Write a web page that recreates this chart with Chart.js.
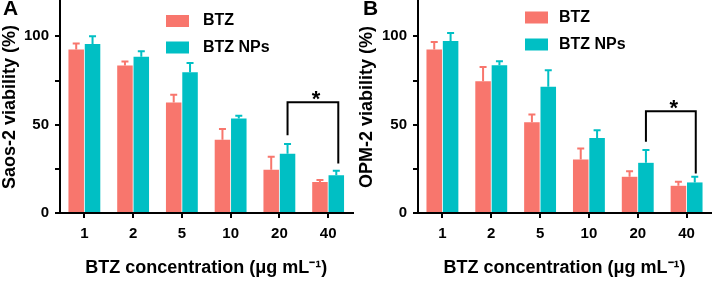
<!DOCTYPE html>
<html><head><meta charset="utf-8">
<script src="https://cdn.jsdelivr.net/npm/chart.js@4.4.1/dist/chart.umd.min.js"></script>
<style>
html,body{margin:0;padding:0;background:#fff;overflow:hidden}
#wrap{position:relative;width:714px;height:281px;background:#fff}
.panel{position:absolute;top:0;width:357px;height:281px}
canvas{display:block}
</style></head><body>
<div id="wrap">
<div class="panel" style="left:0"><canvas id="cA" width="357" height="281"></canvas></div>
<div class="panel" style="left:357px"><canvas id="cB" width="357" height="281"></canvas></div>
</div>
<script>
// ---- data ----
const categories = ['1', '2', '5', '10', '20', '40'];
const seriesNames = ['BTZ', 'BTZ NPs'];
const yTickLabels = [0, 50, 100];
const xTitle = 'BTZ concentration (\u03bcg mL\u207b\u00b9)';

// Panel A: Saos-2
const saosTitle = 'Saos-2 viability (%)';
const saosBTZ = [92.5, 83.5, 62.5, 41.5, 24.5, 17.5];
const saosBTZErr = [3.5, 2.3, 4.5, 6.0, 7.3, 1.2];
const saosNPs = [95.7, 88.5, 79.7, 53.5, 33.5, 21.3];
const saosNPsErr = [4.3, 3.0, 5.2, 1.5, 5.5, 2.6];
const saosBracket = [62.7, 44, 28];   // top, left leg bottom, right leg bottom

// Panel B: OPM-2
const opmTitle = 'OPM-2 viability (%)';
const opmBTZ = [92.5, 74.6, 51.4, 30.3, 20.5, 15.4];
const opmBTZErr = [4.3, 8.1, 4.4, 6.2, 3.2, 2.3];
const opmNPs = [97.4, 83.6, 71.4, 42.4, 28.4, 17.3];
const opmNPsErr = [4.5, 2.3, 9.4, 4.5, 7.2, 3.2];
const opmBracket = [57.6, 40.3, 22.4];

const significance = '*';

// ---- styles ----
const COLORS = ['#F8766D', '#00BFC4'];
const FONT = "'Liberation Sans', Arial, Helvetica, sans-serif";
Chart.defaults.font.family = FONT;
Chart.defaults.font.weight = 'bold';
Chart.defaults.color = '#000';

const decor = {
  id: 'decor',
  afterDatasetsDraw(chart, args, o) {
    const ctx = chart.ctx, ys = chart.scales.y;
    // error bars
    chart.data.datasets.forEach((ds, i) => {
      const meta = chart.getDatasetMeta(i);
      meta.data.forEach((bar, j) => {
        const top = ys.getPixelForValue(ds.data[j] + ds.errors[j]);
        ctx.save();
        ctx.strokeStyle = ds.backgroundColor;
        ctx.lineWidth = 2;
        ctx.beginPath();
        ctx.moveTo(bar.x, bar.y);
        ctx.lineTo(bar.x, top);
        ctx.moveTo(bar.x - 3.5, top);
        ctx.lineTo(bar.x + 3.5, top);
        ctx.stroke();
        ctx.restore();
      });
    });
    // significance bracket
    const b = o.bracket;
    const meta = chart.getDatasetMeta(1);
    const x1 = meta.data[4].x, x2 = meta.data[5].x + o.rightDx;
    const yTop = ys.getPixelForValue(b[0]);
    ctx.save();
    ctx.strokeStyle = '#000';
    ctx.lineWidth = 2;
    ctx.lineJoin = 'miter';
    ctx.beginPath();
    ctx.moveTo(x1, ys.getPixelForValue(b[1]));
    ctx.lineTo(x1, yTop);
    ctx.lineTo(x2, yTop);
    ctx.lineTo(x2, ys.getPixelForValue(b[2]));
    ctx.stroke();
    ctx.fillStyle = '#000';
    ctx.font = 'bold 22px ' + FONT;
    ctx.textAlign = 'center';
    ctx.textBaseline = 'alphabetic';
    ctx.fillText(significance, (x1 + x2) / 2 + o.starDx, yTop + 3.7);
    ctx.restore();
  },
  afterDraw(chart, args, o) {
    const ctx = chart.ctx;
    ctx.save();
    // legend
    chart.data.datasets.forEach((ds, i) => {
      const cy = o.legendY + i * o.legendGap;
      ctx.fillStyle = ds.backgroundColor;
      ctx.fillRect(o.legendX, cy - 6, 23, 12);
      ctx.fillStyle = '#000';
      ctx.font = 'bold 16px ' + FONT;
      ctx.textAlign = 'left';
      ctx.textBaseline = 'middle';
      ctx.fillText(ds.label, o.legendX + o.textDx, cy);
    });
    // panel letter
    ctx.font = 'bold 21px ' + FONT;
    ctx.textAlign = 'left';
    ctx.textBaseline = 'alphabetic';
    ctx.fillStyle = '#000';
    ctx.fillText(o.letter, o.letterX, 15);
    ctx.restore();
  }
};

function makeChart(id, yTitle, btz, btzErr, nps, npsErr, bracket, cfg) {
  return new Chart(document.getElementById(id), {
    type: 'bar',
    data: {
      labels: categories,
      datasets: [
        { label: seriesNames[0], data: btz, errors: btzErr, backgroundColor: COLORS[0],
          categoryPercentage: 0.67, barPercentage: 0.95 },
        { label: seriesNames[1], data: nps, errors: npsErr, backgroundColor: COLORS[1],
          categoryPercentage: 0.67, barPercentage: 0.95 }
      ]
    },
    options: {
      responsive: false,
      animation: false,
      devicePixelRatio: 1,
      layout: { padding: { top: 1, right: cfg.padRight, left: 0, bottom: 0 } },
      plugins: {
        legend: { display: false },
        tooltip: { enabled: false },
        decor: cfg.decor
      },
      scales: {
        x: {
          grid: { display: true, drawOnChartArea: false, drawTicks: true, tickLength: 5,
                  color: '#000', lineWidth: 2, offset: false },
          border: { display: true, color: '#000', width: 2 },
          ticks: { font: { size: 15, weight: 'bold' }, color: '#000', padding: 7, maxRotation: 0 },
          title: { display: true, text: xTitle, font: { size: 18, weight: 'bold' }, color: '#000',
                   padding: { top: 0, bottom: 2 } },
          afterFit(s) { s.height = 68; s.paddingLeft = 0; s.paddingRight = 0; }
        },
        y: {
          min: 0, max: 120,
          grid: { display: true, drawOnChartArea: false, drawTicks: true, tickLength: 5,
                  color: '#000', lineWidth: 2 },
          border: { display: true, color: '#000', width: 2 },
          ticks: { stepSize: 25, includeBounds: false, font: { size: 15, weight: 'bold' }, color: '#000',
                   padding: 6,
                   callback: (v) => yTickLabels.includes(v) ? String(v) : '' },
          title: { display: true, text: yTitle, font: { size: 18, weight: 'bold', lineHeight: 1 },
                   color: '#000', padding: { top: 1, bottom: 0 } },
          afterFit(s) { s.width = cfg.yWidth; s.paddingTop = 0; s.paddingBottom = 0; }
        }
      }
    },
    plugins: [decor]
  });
}

makeChart('cA', saosTitle, saosBTZ, saosBTZErr, saosNPs, saosNPsErr, saosBracket, {
  padRight: 4.5, yWidth: 60,
  decor: { bracket: saosBracket, rightDx: 2, starDx: 3, legendX: 166, legendY: 21, legendGap: 26.5,
           textDx: 37, letter: 'A', letterX: 3 }
});
makeChart('cB', opmTitle, opmBTZ, opmBTZErr, opmNPs, opmNPsErr, opmBracket, {
  padRight: 3, yWidth: 61,
  decor: { bracket: opmBracket, rightDx: 1, starDx: 3, legendX: 168, legendY: 17.5, legendGap: 27,
           textDx: 34, letter: 'B', letterX: 6 }
});
</script>
</body></html>
